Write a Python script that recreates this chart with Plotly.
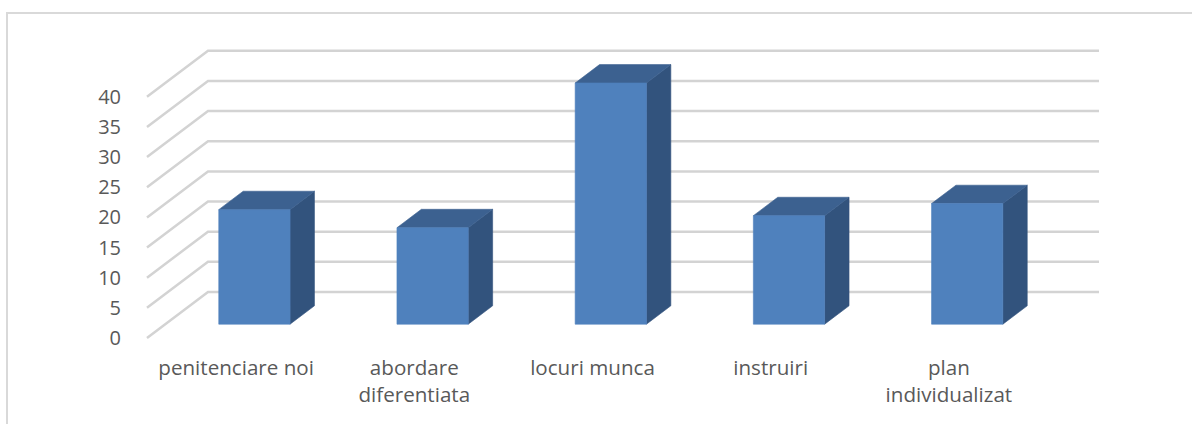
import plotly.graph_objects as go

# ---- data ----
categories = ["penitenciare noi", "abordare<br>diferentiata", "locuri munca",
              "instruiri", "plan<br>individualizat"]
values = [19, 16, 40, 18, 20]
y_ticks = [0, 5, 10, 15, 20, 25, 30, 35, 40]

# ---- oblique 3D projection parameters (axis units) ----
KX = 0.3423      # depth offset along x (category units) for full depth
KY = 7.63        # depth offset along y (value units) for full depth
D0, D1 = 0.3, 0.7  # bar front/back depth fraction
BAR_W = 0.4        # bar width as fraction of category

FRONT = "#4F81BD"
TOP = "#3C6190"
SIDE = "#32537D"
GRID = "#D3D3D3"
TEXT = "#595959"

n = len(categories)
fig = go.Figure()

# gridlines: diagonal on the side wall then horizontal on the back wall
for v in y_ticks:
    fig.add_trace(go.Scatter(
        x=[0, KX, n + KX], y=[v, v + KY, v + KY],
        mode="lines", line=dict(color=GRID, width=2.5),
        hoverinfo="skip", showlegend=False))


def poly(xs, ys, color):
    fig.add_trace(go.Scatter(
        x=xs + [xs[0]], y=ys + [ys[0]], mode="lines", fill="toself",
        fillcolor=color, line=dict(color=color, width=0.6),
        hoverinfo="skip", showlegend=False))


for i, v in enumerate(values):
    xl = i + 0.5 - BAR_W / 2
    xr = i + 0.5 + BAR_W / 2
    fx0, fy0 = D0 * KX, D0 * KY
    bx0, by0 = D1 * KX, D1 * KY
    # side face
    poly([xr + fx0, xr + bx0, xr + bx0, xr + fx0],
         [fy0, by0, v + by0, v + fy0], SIDE)
    # top face
    poly([xl + fx0, xr + fx0, xr + bx0, xl + bx0],
         [v + fy0, v + fy0, v + by0, v + by0], TOP)
    # front face
    poly([xl + fx0, xr + fx0, xr + fx0, xl + fx0],
         [fy0, fy0, v + fy0, v + fy0], FRONT)

# pixel layout
W, H = 1192, 424
L, R, T, B = 140, 1105, 40, 345
PX_CAT = 178.2
PX_VAL = 6.03
OX, OY = 147, 338
x_range = [(L - OX) / PX_CAT, (R - OX) / PX_CAT]
y_range = [(OY - B) / PX_VAL, (OY - T) / PX_VAL]

font = dict(family="Open Sans", size=20, color=TEXT)
xfont = dict(family="Open Sans", size=20.6, color=TEXT)

fig.update_layout(
    width=W, height=H,
    margin=dict(l=L, r=W - R, t=T, b=H - B),
    paper_bgcolor="white", plot_bgcolor="white",
    showlegend=False,
    font=font,
    xaxis=dict(range=x_range, showgrid=False, zeroline=False, showline=False,
               tickmode="array", tickvals=[i + 0.5 for i in range(n)],
               ticktext=categories, ticks="outside", ticklen=4,
               tickcolor="rgba(0,0,0,0)", tickfont=xfont, fixedrange=True),
    yaxis=dict(range=y_range, showgrid=False, zeroline=False, showline=False,
               tickmode="array", tickvals=y_ticks,
               ticktext=[str(t) for t in y_ticks], ticks="outside", ticklen=14,
               tickcolor="rgba(0,0,0,0)", tickfont=font, fixedrange=True),
)

# chart border (extends past the right and bottom of the view)
pw, ph = R - L, B - T
fig.add_shape(type="rect", xref="paper", yref="paper",
              x0=(7 - L) / pw, x1=(W + 10 - L) / pw,
              y0=(B - (H + 10)) / ph, y1=(B - 13) / ph,
              line=dict(color="#D9D9D9", width=2), fillcolor="rgba(0,0,0,0)",
              layer="below")

fig.write_html(
    "out.html",
    config={"displayModeBar": False},
    post_script="document.body.style.margin='0';document.body.style.overflow='hidden';",
)
